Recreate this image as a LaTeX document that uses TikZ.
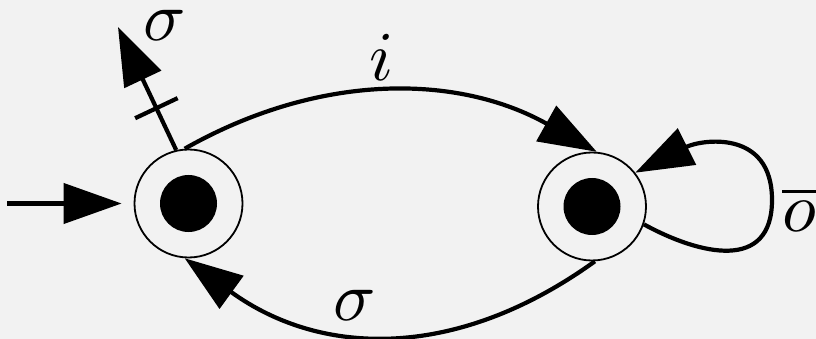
\documentclass[tikz,border=0pt]{standalone}
\usetikzlibrary{arrows.meta,calc}
\begin{document}
\begin{tikzpicture}[x=1pt,y=-1pt,
  state/.style={circle,draw,line width=1.8pt,minimum size=108pt,inner sep=0pt},
  dotfill/.style={circle,fill=black,minimum size=57pt,inner sep=0pt},
  edge/.style={line width=4.2pt,-{Triangle[length=58pt,width=40pt]}},
  lbl/.style={scale=7,inner sep=0pt}]
\fill[black!5] (0,0) rectangle (816,339);
\useasboundingbox (0,0) rectangle (816,339);
\node[state] (L) at (188.5,203.5) {};
\node[dotfill] (Ld) at (L.center) {};
\node[state] (R) at (592,206.5) {};
\node[dotfill] (Rd) at (R.center) {};
% initial arrow
\coordinate (init) at (7,203.5);
\draw[edge,shorten >=12pt] (init) -- (L.west);
% exit arrow with tick
\coordinate (out) at (118,27);
\draw[edge] (L.103) -- (out);
\coordinate (m) at ($(L.103)!0.34!(out)$);
\draw[line width=4.2pt] ($(m)!23.5pt!90:(out)$) -- ($(m)!23.5pt!-90:(out)$);
\node[lbl] (s1) at (165,25) {$\sigma$};
% top arc
\draw[edge] (L.94) .. controls (320,72) and (458,74) .. (R.85);
\node[lbl] (li) at (382,57) {$i$};
% bottom arc
\draw[edge] (R.-87) .. controls (458,360) and (322,358) .. (L.266);
\node[lbl] (s2) at (355,305) {$\sigma$};
% self loop
\coordinate (loopR) at (772,200);
\draw[edge] (R.-19) .. controls (700,255) and (772,272) .. (loopR) .. controls (772,128) and (700,140) .. (R.38);
\node[lbl] (lo) at (799,209) {$\overline{o}$};
\end{tikzpicture}
\end{document}
